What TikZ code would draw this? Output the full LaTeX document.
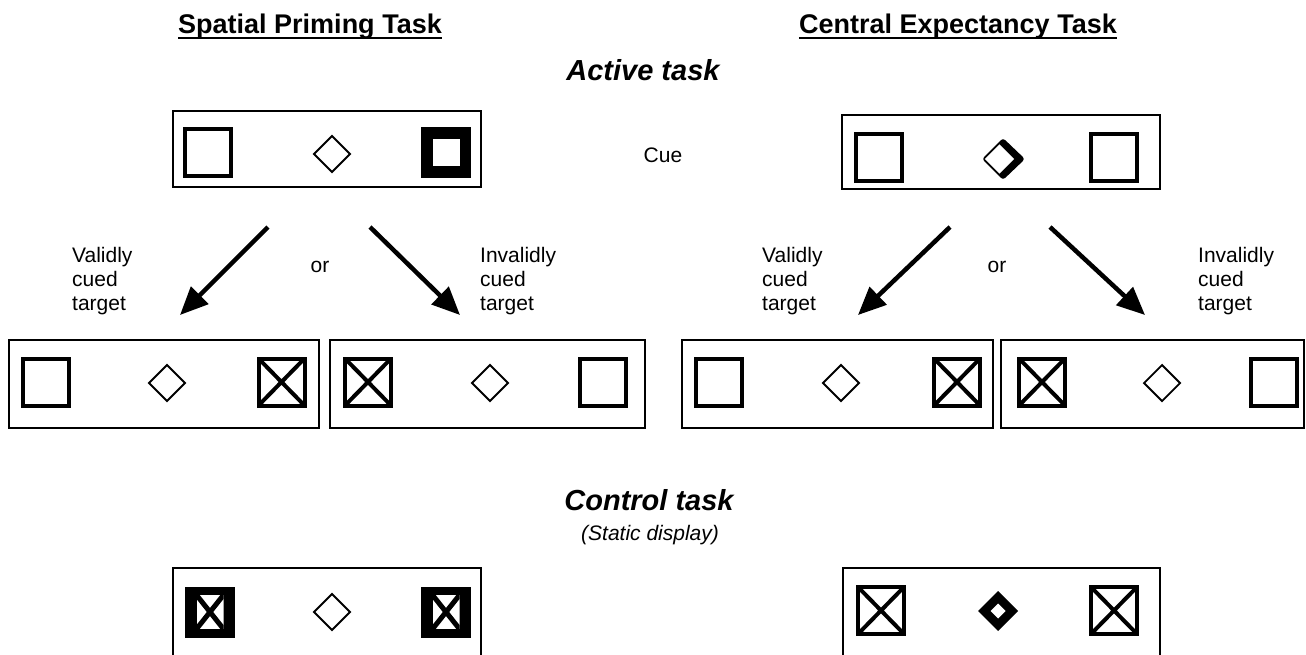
\documentclass[tikz,border=0pt]{standalone}
\usepackage{fontspec}
\setmainfont{Liberation Sans}
\usetikzlibrary{arrows.meta}
\newcommand\EmptySq[2]{\draw[sqline] ({#1-23},{#2-23.5}) rectangle ({#1+23},{#2+23.5});}
\newcommand\CrossSq[2]{\draw[sqline] ({#1-23},{#2-23.5}) rectangle ({#1+23},{#2+23.5});
  \draw[sqline] ({#1-23},{#2-23.5}) -- ({#1+23},{#2+23.5}) ({#1-23},{#2+23.5}) -- ({#1+23},{#2-23.5});}
\newcommand\FillSq[2]{\fill ({#1-25},{#2-25.5}) rectangle ({#1+25},{#2+25.5});
  \fill[white] ({#1-13.5},{#2-13.5}) rectangle ({#1+13.5},{#2+13.5});}
\newcommand\FillXSq[2]{\fill ({#1-25},{#2-25.5}) rectangle ({#1+25},{#2+25.5});
  \begin{scope}
  \clip ({#1-13.5},{#2-17}) rectangle ({#1+13.5},{#2+17});
  \fill[white] ({#1-13.5},{#2-17}) rectangle ({#1+13.5},{#2+17});
  \draw[line width=5pt] ({#1-13.5},{#2-17}) -- ({#1+13.5},{#2+17}) ({#1-13.5},{#2+17}) -- ({#1+13.5},{#2-17});
  \end{scope}}
\newcommand\ThinDiam[2]{\draw[dline] ({#1-18},{#2}) -- ({#1},{#2-18}) -- ({#1+18},{#2}) -- ({#1},{#2+18}) -- cycle;}
\newcommand\ThickDiam[2]{\fill ({#1-20},{#2}) -- ({#1},{#2-20}) -- ({#1+20},{#2}) -- ({#1},{#2+20}) -- cycle;
  \fill[white] ({#1-7.5},{#2}) -- ({#1},{#2-7.5}) -- ({#1+7.5},{#2}) -- ({#1},{#2+7.5}) -- cycle;}
\newcommand\CueDiam[2]{\fill[rounded corners=3pt] ({#1-21},{#2}) -- ({#1},{#2-21}) -- ({#1+22},{#2}) -- ({#1},{#2+21}) -- cycle;
  \fill[white] ({#1-18.2},{#2}) -- ({#1-3.5},{#2-14.7}) -- ({#1+11},{#2}) -- ({#1-3.5},{#2+14.7}) -- cycle;}
\begin{document}
\begin{tikzpicture}[x=1pt,y=-1pt,
  frame/.style={draw,line width=1.5pt},
  sqline/.style={line width=4pt},
  dline/.style={line width=1.8pt},
  arr/.style={line width=4.5pt,-{Triangle[length=28pt,width=24pt]}},
  lbl/.style={font=\fontsize{21}{24}\selectfont,inner sep=0pt,align=left,anchor=north west},
  hdr/.style={font=\fontsize{27}{30}\selectfont\bfseries,inner sep=0pt,anchor=base},
  ttl/.style={font=\fontsize{29}{32}\selectfont\bfseries\itshape,inner sep=0pt,anchor=base},
  plain/.style={font=\fontsize{21}{24}\selectfont,inner sep=0pt,anchor=base}]
\useasboundingbox (0,0) rectangle (1306,654);
\fill[white] (0,0) rectangle (1306,654);
% headers
\node[hdr] (sp) at (310,33) {Spatial Priming Task};
\draw[line width=1.5pt] ([yshift=-5pt]sp.base west) -- ([yshift=-5pt]sp.base east);
\node[hdr] (ce) at (958,33) {Central Expectancy Task};
\draw[line width=1.5pt] ([yshift=-5pt]ce.base west) -- ([yshift=-5pt]ce.base east);
\node[ttl] (act) at (643,80) {Active task};
% cue boxes
\node[frame,minimum width=308pt,minimum height=76pt,inner sep=0pt] (cue1) at (327,149) {};
\EmptySq{208}{152.5}
\ThinDiam{332}{154}
\FillSq{446}{152.5}
\node[plain] (cuelbl) at (663,162) {Cue};
\node[frame,minimum width=318pt,minimum height=74pt,inner sep=0pt] (cue2) at (1001,152) {};
\EmptySq{878.5}{157.5}
\CueDiam{1003}{159}
\EmptySq{1114}{157.5}
% arrows
\coordinate (a1s) at (268,227); \coordinate (a1e) at (180,315);
\coordinate (a2s) at (370,227); \coordinate (a2e) at (460,315);
\coordinate (a3s) at (950,227); \coordinate (a3e) at (858,315);
\coordinate (a4s) at (1050,227); \coordinate (a4e) at (1145,315);
\draw[arr] (a1s) -- (a1e);
\draw[arr] (a2s) -- (a2e);
\draw[arr] (a3s) -- (a3e);
\draw[arr] (a4s) -- (a4e);
% labels
\node[lbl] (v1) at (72,247) {Validly\\cued\\target};
\node[plain] (or1) at (320,272) {or};
\node[lbl] (i1) at (480,247) {Invalidly\\cued\\target};
\node[lbl] (v2) at (762,247) {Validly\\cued\\target};
\node[plain] (or2) at (997,272) {or};
\node[lbl] (i2) at (1198,247) {Invalidly\\cued\\target};
% target boxes
\node[frame,minimum width=310pt,minimum height=88pt,inner sep=0pt] (t1) at (164,384) {};
\EmptySq{46}{382}
\ThinDiam{167}{383}
\CrossSq{281.5}{382}
\node[frame,minimum width=315pt,minimum height=88pt,inner sep=0pt] (t2) at (487.5,384) {};
\CrossSq{368}{382}
\ThinDiam{490}{383}
\EmptySq{603}{382}
\node[frame,minimum width=311pt,minimum height=88pt,inner sep=0pt] (t3) at (837.5,384) {};
\EmptySq{719}{382}
\ThinDiam{841}{383}
\CrossSq{957}{382}
\node[frame,minimum width=303pt,minimum height=88pt,inner sep=0pt] (t4) at (1152.5,384) {};
\CrossSq{1042}{382}
\ThinDiam{1162}{383}
\EmptySq{1274}{382}
% control
\node[ttl] (ctl) at (649,510) {Control task};
\node[font=\fontsize{21}{24}\selectfont\itshape,inner sep=0pt,anchor=base west] (sd) at (581,540) {(Static display)};
\node[frame,minimum width=308pt,minimum height=100pt,inner sep=0pt] (c1) at (327,618) {};
\FillXSq{210}{612}
\ThinDiam{332}{612}
\FillXSq{446}{612}
\node[frame,minimum width=317pt,minimum height=100pt,inner sep=0pt] (c2) at (1001.5,618) {};
\CrossSq{881}{610.5}
\ThickDiam{998}{611}
\CrossSq{1114}{610.5}
\end{tikzpicture}
\end{document}
